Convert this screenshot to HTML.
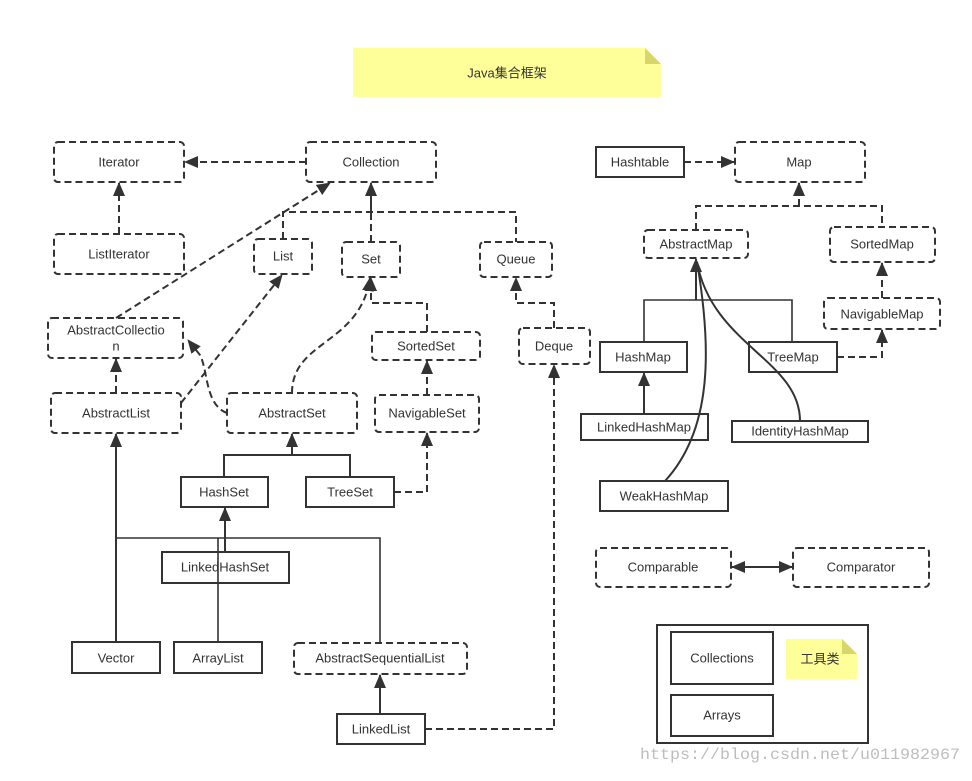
<!DOCTYPE html>
<html><head><meta charset="utf-8"><style>
html,body{margin:0;padding:0;background:#fff}
svg text{font-family:"Liberation Sans","Noto Sans CJK SC",sans-serif;font-size:13px;fill:#333;text-anchor:middle;dominant-baseline:central}
</style></head><body>
<svg width="972" height="776" viewBox="0 0 972 776" xmlns="http://www.w3.org/2000/svg">
<defs>
<marker id="a" markerWidth="14" markerHeight="12" refX="13" refY="6" orient="auto" markerUnits="userSpaceOnUse">
<path d="M0,0 L14,6 L0,12 z" fill="#333"/></marker>
<marker id="b" markerWidth="14" markerHeight="12" refX="1" refY="6" orient="auto" markerUnits="userSpaceOnUse">
<path d="M14,0 L0,6 L14,12 z" fill="#333"/></marker>
</defs>
<g fill="none" stroke="#333" stroke-width="2">
<g stroke-dasharray="7,4">
<rect x="54" y="142" width="130" height="40" rx="4"/>
<rect x="306" y="142" width="130" height="40" rx="4"/>
<rect x="54" y="234" width="130" height="40" rx="4"/>
<rect x="254" y="239" width="58" height="35" rx="4"/>
<rect x="342" y="242" width="58" height="35" rx="4"/>
<rect x="480" y="242" width="72" height="35" rx="4"/>
<rect x="48" y="318" width="135" height="40" rx="4"/>
<rect x="372" y="332" width="108" height="28" rx="4"/>
<rect x="519" y="328" width="71" height="36" rx="4"/>
<rect x="51" y="393" width="130" height="40" rx="4"/>
<rect x="227" y="393" width="130" height="40" rx="4"/>
<rect x="375" y="395" width="104" height="37" rx="4"/>
<rect x="294" y="643" width="173" height="31" rx="4"/>
<rect x="735" y="142" width="130" height="40" rx="4"/>
<rect x="644" y="230" width="104" height="28" rx="4"/>
<rect x="830" y="227" width="105" height="35" rx="4"/>
<rect x="824" y="298" width="116" height="31" rx="4"/>
<rect x="596" y="548" width="135" height="39" rx="4"/>
<rect x="793" y="548" width="136" height="39" rx="4"/>
<path d="M306,162 H185" marker-end="url(#a)"/>
<path d="M119,234 V183" marker-end="url(#a)"/>
<path d="M283,239 V212 H516 V242 M371,242 V212" />
<path d="M371,212 V183" marker-end="url(#a)" stroke-dasharray="none"/>
<path d="M116,318 L330,183" marker-end="url(#a)"/>
<path d="M181,403 L282,275" marker-end="url(#a)"/>
<path d="M116,393 V359" marker-end="url(#a)"/>
<path d="M227,413 C205,405 208,370 200,355 L188,340" marker-end="url(#a)"/>
<path d="M292,393 C292,340 360,345 370,278" marker-end="url(#a)"/>
<path d="M427,332 V303 H371 V278" marker-end="url(#a)"/>
<path d="M427,395 V361" marker-end="url(#a)"/>
<path d="M554,328 V303 H516 V278" marker-end="url(#a)"/>
<path d="M394,492 H427 V433" marker-end="url(#a)"/>
<path d="M425,729 H554 V365" marker-end="url(#a)"/>
<path d="M684,162 H734" marker-end="url(#a)"/>
<path d="M696,230 V206 H882 V227"/>
<path d="M799,206 V183" marker-end="url(#a)"/>
<path d="M882,298 V263" marker-end="url(#a)"/>
<path d="M837,357 H882 V330" marker-end="url(#a)"/>
</g>
<rect x="181" y="477" width="87" height="30"/>
<rect x="306" y="477" width="88" height="30"/>
<rect x="162" y="552" width="127" height="31"/>
<rect x="72" y="642" width="88" height="31"/>
<rect x="174" y="642" width="88" height="31"/>
<rect x="337" y="714" width="88" height="30"/>
<rect x="596" y="147" width="88" height="30"/>
<rect x="600" y="342" width="87" height="30"/>
<rect x="749" y="342" width="88" height="30"/>
<rect x="581" y="414" width="127" height="26"/>
<rect x="732" y="421" width="136" height="21"/>
<rect x="600" y="481" width="128" height="30"/>
<rect x="657" y="625" width="211" height="118"/>
<rect x="671" y="632" width="102" height="52"/>
<rect x="671" y="695" width="102" height="41"/>
<path d="M224,477 V455 H350 V477"/>
<path d="M292,455 V434" marker-end="url(#a)"/>
<path d="M225,552 V508" marker-end="url(#a)"/>
<path d="M116,642 V434" marker-end="url(#a)"/>
<path d="M116,538 H380 V643 M218,642 V538" stroke-width="1.6"/>
<path d="M380,714 V675" marker-end="url(#a)"/>
<path d="M644,342 V300 H792 V342" stroke-width="1.6"/>
<path d="M696,300 V259" marker-end="url(#a)"/>
<path d="M644,414 V373" marker-end="url(#a)"/>
<path d="M665,481 C712,430 712,350 697,262"/>
<path d="M800,421 C800,360 712,345 697,262"/>
<path d="M732,567 H792" marker-end="url(#a)" marker-start="url(#b)"/>
</g>
<path d="M353,48 H645 L661,64 V97 H353 Z" fill="#ffff99"/>
<path d="M645,48 V64 H661 Z" fill="#d6d66b"/>
<path d="M786,639 H842 L857,654 V679 H786 Z" fill="#ffff99"/>
<path d="M842,639 V654 H857 Z" fill="#d6d66b"/>
<text x="507" y="73">Java集合框架</text>
<text x="820" y="659">工具类</text>
<text x="119" y="162">Iterator</text>
<text x="371" y="162">Collection</text>
<text x="119" y="254">ListIterator</text>
<text x="283" y="256">List</text>
<text x="371" y="259">Set</text>
<text x="516" y="259">Queue</text>
<text x="116" y="330">AbstractCollectio</text>
<text x="116" y="346">n</text>
<text x="426" y="346">SortedSet</text>
<text x="554" y="346">Deque</text>
<text x="116" y="413">AbstractList</text>
<text x="292" y="413">AbstractSet</text>
<text x="427" y="413">NavigableSet</text>
<text x="224" y="492">HashSet</text>
<text x="350" y="492">TreeSet</text>
<text x="225" y="567">LinkedHashSet</text>
<text x="116" y="658">Vector</text>
<text x="218" y="658">ArrayList</text>
<text x="380" y="658">AbstractSequentialList</text>
<text x="381" y="729">LinkedList</text>
<text x="640" y="162">Hashtable</text>
<text x="799" y="162">Map</text>
<text x="696" y="244">AbstractMap</text>
<text x="882" y="244">SortedMap</text>
<text x="882" y="314">NavigableMap</text>
<text x="643" y="357">HashMap</text>
<text x="793" y="357">TreeMap</text>
<text x="644" y="427">LinkedHashMap</text>
<text x="800" y="431">IdentityHashMap</text>
<text x="664" y="496">WeakHashMap</text>
<text x="663" y="567">Comparable</text>
<text x="861" y="567">Comparator</text>
<text x="722" y="658">Collections</text>
<text x="722" y="715">Arrays</text>
<text x="640" y="755" textLength="320" lengthAdjust="spacingAndGlyphs" style="text-anchor:start;font-family:'Liberation Mono',monospace;font-size:16px;fill:#bdbdbd">https://blog.csdn.net/u011982967</text>
</svg>
</body></html>
